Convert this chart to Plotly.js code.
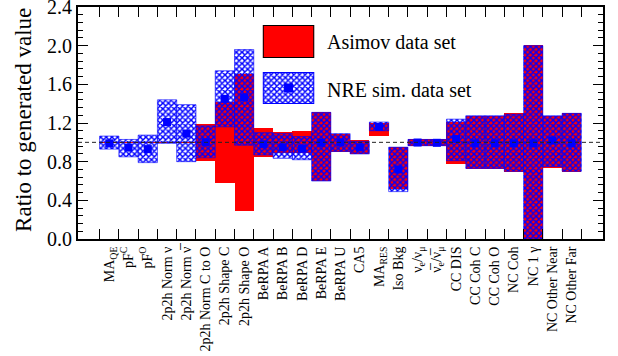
<!DOCTYPE html>
<html>
<head>
<meta charset="utf-8">
<script src="https://cdn.plot.ly/plotly-3.0.1.min.js"></script>
<style>html,body{margin:0;padding:0;background:#fff;}#chart{width:618px;height:356px;}</style>
</head>
<body>
<div id="chart"></div>
<script>
// ---- data ----
const categories = [
  "MA<sub>QE</sub>", "pF<sup>C</sup>", "pF<sup>O</sup>",
  "2p2h Norm \u03bd", "2p2h Norm \u03bd\u0305", "2p2h Norm C to O",
  "2p2h Shape C", "2p2h Shape O",
  "BeRPA A", "BeRPA B", "BeRPA D", "BeRPA E", "BeRPA U",
  "CA5", "MA<sub>RES</sub>", "Iso Bkg",
  "\u03bd<sub>e</sub>/\u03bd<sub>\u03bc</sub>", "\u03bd\u0305<sub>e</sub>/\u03bd\u0305<sub>\u03bc</sub>",
  "CC DIS", "CC Coh C", "CC Coh O", "NC Coh", "NC 1 \u03b3",
  "NC Other Near", "NC Other Far"
];
const asimovLow  = [0.995,0.995,0.995,0.995,0.995,0.81,0.58,0.29,0.85,0.885,0.89,0.595,0.90,0.875,1.07,0.515,0.965,0.965,0.78,0.72,0.72,0.69,0.0,0.735,0.695];
const asimovHigh = [1.005,1.005,1.005,1.005,1.005,1.19,1.42,1.71,1.15,1.11,1.12,1.31,1.09,1.02,1.195,0.955,1.03,1.03,1.21,1.27,1.27,1.30,2.005,1.27,1.30];
const nreLow     = [0.93,0.85,0.79,0.99,0.80,0.84,1.16,0.97,0.87,0.835,0.82,0.60,0.905,0.88,1.12,0.49,0.965,0.965,0.81,0.73,0.73,0.70,0.0,0.75,0.70];
const nreHigh    = [1.065,1.03,1.075,1.44,1.39,1.17,1.74,1.96,1.10,1.09,1.06,1.31,1.09,1.01,1.21,0.95,1.03,1.03,1.24,1.275,1.275,1.29,2.0,1.275,1.30];
const nreValue   = [0.99,0.945,0.93,1.21,1.09,1.00,1.45,1.465,0.98,0.948,0.934,0.995,0.998,0.948,1.16,0.72,0.998,0.995,1.035,0.99,0.99,0.99,0.99,1.02,0.99];
const legendLabels = ["Asimov data set", "NRE sim. data set"];
const yTitle = "Ratio to generated value";
const nominal = 1.0;

const FONT = "Liberation Serif";
const pattern = {shape: "x", fgcolor: "#0000ff", bgcolor: "rgba(0,0,0,0)", fillmode: "replace", size: 4, solidity: 0.6};

const diff = (hi, lo) => hi.map((h, i) => h - lo[i]);

const traces = [
  {type: "bar", x: categories, base: asimovLow, y: diff(asimovHigh, asimovLow), width: 1,
   marker: {color: "#ff0000", line: {width: 0}}, hoverinfo: "skip", showlegend: false},
  {type: "bar", x: categories, base: nreLow, y: diff(nreHigh, nreLow), width: 1,
   marker: {color: "rgba(0,0,0,0)", pattern: pattern, line: {width: 0.6, color: "#0000ff"}}, hoverinfo: "skip", showlegend: false},
  {type: "scatter", mode: "markers", x: categories, y: nreValue,
   marker: {symbol: "square", size: 8, color: "#0000ff"}, showlegend: false},
  // legend boxes (own small axes)
  {type: "bar", x: [0], y: [1], base: [0], width: 1, xaxis: "x2", yaxis: "y2",
   marker: {color: "#ff0000", line: {width: 2, color: "#000"}}, showlegend: false, hoverinfo: "skip"},
  {type: "bar", x: [0], y: [1], base: [0], width: 1, xaxis: "x2", yaxis: "y3",
   marker: {color: "rgba(0,0,0,0)", pattern: pattern, line: {width: 2, color: "#0000ff"}}, showlegend: false, hoverinfo: "skip"},
  {type: "scatter", mode: "markers", x: [0], y: [0.5], xaxis: "x2", yaxis: "y3",
   marker: {symbol: "square", size: 9, color: "#0000ff"}, showlegend: false}
];

const layout = {
  width: 618, height: 356,
  margin: {l: 78, r: 15, t: 7, b: 117},
  paper_bgcolor: "#fff", plot_bgcolor: "#fff",
  font: {family: FONT, color: "#000"},
  barmode: "overlay", bargap: 0,
  showlegend: false,
  xaxis: {
    type: "category", tickson: "boundaries", ticks: "inside", ticklen: 10, tickwidth: 1, tickcolor: "#000",
    showline: true, linewidth: 2, linecolor: "#000", mirror: "ticks",
    tickangle: -90, tickfont: {family: FONT, size: 14, color: "#000"},
    showgrid: false, zeroline: false, fixedrange: true
  },
  yaxis: {
    range: [0, 2.4001], dtick: 0.4, tick0: 0, tickformat: ".1f", ticklabeloverflow: "allow",
    ticks: "inside", ticklen: 10, tickwidth: 1, tickcolor: "#000",
    minor: {dtick: 0.08, ticks: "inside", ticklen: 5, tickwidth: 1, tickcolor: "#000", showgrid: false},
    showline: true, linewidth: 2, linecolor: "#000", mirror: "ticks",
    tickfont: {family: FONT, size: 20, color: "#000"},
    showgrid: false, zeroline: false, fixedrange: true
  },
  xaxis2: {domain: [0.352, 0.450], range: [-0.5, 0.5], anchor: "y2", visible: false, fixedrange: true},
  yaxis2: {domain: [0.780, 0.922], range: [0, 1], anchor: "x2", visible: false, fixedrange: true},
  yaxis3: {domain: [0.582, 0.720], range: [0, 1], anchor: "x2", visible: false, fixedrange: true},
  shapes: [
    {type: "line", xref: "paper", x0: 0, x1: 1, yref: "y", y0: nominal, y1: nominal,
     line: {color: "#222", width: 1, dash: "4px,3px"}, layer: "above"}
  ],
  annotations: [
    {text: legendLabels[0], xref: "paper", yref: "paper", x: 0.470, y: 0.849, xanchor: "left", yanchor: "middle",
     showarrow: false, font: {family: FONT, size: 20, color: "#000"}},
    {text: legendLabels[1], xref: "paper", yref: "paper", x: 0.470, y: 0.642, xanchor: "left", yanchor: "middle",
     showarrow: false, font: {family: FONT, size: 20, color: "#000"}},
    {text: yTitle, xref: "paper", yref: "paper", x: -0.103, y: 0.513, xanchor: "center", yanchor: "middle",
     textangle: -90, showarrow: false, font: {family: FONT, size: 23, color: "#000"}}
  ]
};

Plotly.newPlot("chart", traces, layout, {staticPlot: true, displayModeBar: false});
</script>
</body>
</html>
